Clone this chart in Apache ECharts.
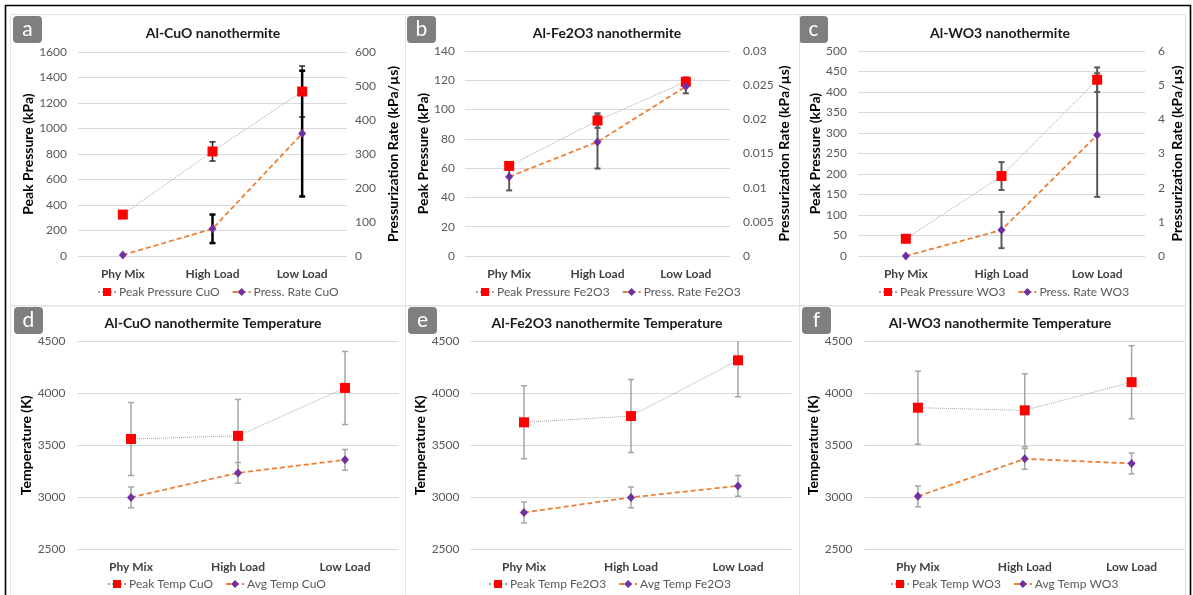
<!DOCTYPE html>
<html>
<head>
<meta charset="utf-8">
<script src="https://cdn.jsdelivr.net/npm/echarts@6/dist/echarts.min.js"></script>
<style>
  html, body { margin: 0; padding: 0; background: #fff; }
  #chart { width: 1193px; height: 595px; }
</style>
</head>
<body>
<div id="chart"></div>
<script>
// ---- data ----
const categories = ['Phy Mix', 'High Load', 'Low Load'];

// pressure (kPa) and pressurization rate (kPa/µs)
const cuoPeakPressure = [325, 820, 1290];
const cuoPeakPressureErr = [0, 75, 200];
const cuoPressRate = [3, 80, 360];
const cuoPressRateErr = [0, 42, 185];

const fe2o3PeakPressure = [61.5, 92.5, 119];
const fe2o3PeakPressureErr = [2, 5, 3];
const fe2o3PressRate = [0.0116, 0.0167, 0.0248];
const fe2o3PressRateErr = [0.002, 0.0039, 0.001];

const wo3PeakPressure = [42, 195, 430];
const wo3PeakPressureErr = [0, 34, 30];
const wo3PressRate = [0, 0.76, 3.54];
const wo3PressRateErr = [0, 0.53, 1.81];

// temperatures (K)
const cuoPeakTemp = [3560, 3590, 4050];
const cuoPeakTempErr = [350, 350, 350];
const cuoAvgTemp = [3000, 3235, 3360];
const cuoAvgTempErr = [100, 100, 100];

const fe2o3PeakTemp = [3720, 3780, 4315];
const fe2o3PeakTempErr = [350, 350, 350];
const fe2o3AvgTemp = [2855, 3000, 3110];
const fe2o3AvgTempErr = [100, 100, 100];

const wo3PeakTemp = [3860, 3835, 4105];
const wo3PeakTempErr = [350, 350, 350];
const wo3AvgTemp = [3010, 3370, 3325];
const wo3AvgTempErr = [100, 100, 100];

// ---- styling ----
const FONT = 'Lato, "Open Sans", sans-serif';
const RED = '#ff0000', PURPLE = '#7030a0', ORANGE = '#ed7d31', DOT = '#a6a6a6';
const GRIDLINE = '#d9d9d9', TICK = '#595959';

const panels = [
  { key: 'a', title: 'Al-CuO nanothermite', grid: { left: 78, top: 52, width: 269, height: 204 },
    left: { min: 0, max: 1600, interval: 200, name: 'Peak Pressure (kPa)', gap: 29, margin: 11 },
    right: { min: 0, max: 600, interval: 100, name: 'Pressurization Rate (kPa/µs)', gap: 39, margin: 8 },
    s1: { name: 'Peak Pressure CuO', data: cuoPeakPressure, err: cuoPeakPressureErr },
    s2: { name: 'Press. Rate CuO', data: cuoPressRate, err: cuoPressRateErr },
    errColor1: '#262626', errWidth1: 1.5, errColor2: '#000', errWidth2: 2.5,
    legendLeft: 97, legendTop: 286, badge: [13, 16], titleX: 208, titleY: 21 },
  { key: 'b', title: 'Al-Fe2O3 nanothermite', grid: { left: 465, top: 51, width: 265, height: 205 },
    left: { min: 0, max: 140, interval: 20, name: 'Peak Pressure (kPa)', gap: 28, margin: 10 },
    right: { min: 0, max: 0.03, interval: 0.005, name: 'Pressurization Rate (kPa/µs)', gap: 46, margin: 13 },
    s1: { name: 'Peak Pressure Fe2O3', data: fe2o3PeakPressure, err: fe2o3PeakPressureErr },
    s2: { name: 'Press. Rate Fe2O3', data: fe2o3PressRate, err: fe2o3PressRateErr },
    errColor1: '#595959', errWidth1: 2, errColor2: '#595959', errWidth2: 2,
    legendLeft: 475, legendTop: 286, badge: [407, 16], titleX: 602, titleY: 21 },
  { key: 'c', title: 'Al-WO3 nanothermite', grid: { left: 858, top: 51, width: 287, height: 205 },
    left: { min: 0, max: 500, interval: 50, name: 'Peak Pressure (kPa)', gap: 30, margin: 11 },
    right: { min: 0, max: 6, interval: 1, name: 'Pressurization Rate (kPa/µs)', gap: 25, margin: 13 },
    s1: { name: 'Peak Pressure WO3', data: wo3PeakPressure, err: wo3PeakPressureErr },
    s2: { name: 'Press. Rate WO3', data: wo3PressRate, err: wo3PressRateErr },
    errColor1: '#595959', errWidth1: 2, errColor2: '#595959', errWidth2: 2,
    legendLeft: 878, legendTop: 286, badge: [799, 16], titleX: 995, titleY: 21 },
  { key: 'd', title: 'Al-CuO nanothermite Temperature', grid: { left: 77.5, top: 341, width: 321, height: 208.5 },
    left: { min: 2500, max: 4500, interval: 500, name: 'Temperature (K)', gap: 28, margin: 12 },
    s1: { name: 'Peak Temp CuO', data: cuoPeakTemp, err: cuoPeakTempErr },
    s2: { name: 'Avg Temp CuO', data: cuoAvgTemp, err: cuoAvgTempErr },
    errColor1: '#a6a6a6', errWidth1: 1.5, errColor2: '#a6a6a6', errWidth2: 1.5,
    legendLeft: 107, legendTop: 578, badge: [14, 307], titleX: 208, titleY: 311 },
  { key: 'e', title: 'Al-Fe2O3 nanothermite Temperature', grid: { left: 470.5, top: 341, width: 321, height: 208.5 },
    left: { min: 2500, max: 4500, interval: 500, name: 'Temperature (K)', gap: 29, margin: 11 },
    s1: { name: 'Peak Temp Fe2O3', data: fe2o3PeakTemp, err: fe2o3PeakTempErr },
    s2: { name: 'Avg Temp Fe2O3', data: fe2o3AvgTemp, err: fe2o3AvgTempErr },
    errColor1: '#a6a6a6', errWidth1: 1.5, errColor2: '#a6a6a6', errWidth2: 1.5,
    legendLeft: 488, legendTop: 578, badge: [408, 307], titleX: 602, titleY: 311 },
  { key: 'f', title: 'Al-WO3 nanothermite Temperature', grid: { left: 864.5, top: 341, width: 320.5, height: 208.5 },
    left: { min: 2500, max: 4500, interval: 500, name: 'Temperature (K)', gap: 29, margin: 12 },
    s1: { name: 'Peak Temp WO3', data: wo3PeakTemp, err: wo3PeakTempErr },
    s2: { name: 'Avg Temp WO3', data: wo3AvgTemp, err: wo3AvgTempErr },
    errColor1: '#a6a6a6', errWidth1: 1.5, errColor2: '#a6a6a6', errWidth2: 1.5,
    legendLeft: 890, legendTop: 578, badge: [802, 307], titleX: 995, titleY: 311 }
];

// vertical error bar with small caps, drawn through the axis scales
function errorBar(color, width, cap) {
  return function (params, api) {
    const x = api.value(0), lo = api.value(1), hi = api.value(2);
    const a = api.coord([x, lo]), b = api.coord([x, hi]);
    const st = { stroke: color, lineWidth: width };
    return {
      type: 'group',
      children: [
        { type: 'line', shape: { x1: a[0], y1: a[1], x2: b[0], y2: b[1] }, style: st },
        { type: 'line', shape: { x1: a[0] - cap, y1: a[1], x2: a[0] + cap, y2: a[1] }, style: st },
        { type: 'line', shape: { x1: b[0] - cap, y1: b[1], x2: b[0] + cap, y2: b[1] }, style: st }
      ]
    };
  };
}
function errData(vals, errs) {
  const out = [];
  vals.forEach((v, i) => { if (errs[i] > 0) out.push([i, v - errs[i], v + errs[i]]); });
  return out;
}
// plain numbers, no thousands separator
function fmt(v) { return String(+v.toFixed(4)); }

const grid = [], xAxis = [], yAxis = [], series = [], legend = [], title = [];
const graphic = [];

// frame and panel borders
graphic.push({ type: 'rect', shape: { x: 5.5, y: 5.5, width: 1185, height: 600 },
  style: { fill: 'none', stroke: '#000', lineWidth: 1.6 }, z: 100 });
[[10, 14, 395, 291], [405, 14, 394, 291], [799, 14, 386, 291],
 [10, 305.5, 395, 300], [405, 305.5, 394, 300], [799, 305.5, 386, 300]].forEach(r => {
  graphic.push({ type: 'rect', shape: { x: r[0] + 0.5, y: r[1] + 0.5, width: r[2], height: r[3] },
    style: { fill: 'none', stroke: '#e3e3e3', lineWidth: 1 }, z: 99 });
});

const NAME_STYLE = { fontFamily: FONT, fontSize: 14, fontWeight: 'bold', color: '#000' };

panels.forEach((p, gi) => {
  grid.push(Object.assign({ containLabel: false }, p.grid));
  xAxis.push({
    type: 'category', gridIndex: gi, data: categories,
    axisLine: { show: false }, axisTick: { show: false },
    axisLabel: { fontFamily: FONT, fontSize: 12, fontWeight: 'bold', color: '#404040', margin: 12 }
  });
  const leftIdx = yAxis.length;
  yAxis.push({
    type: 'value', gridIndex: gi, min: p.left.min, max: p.left.max, interval: p.left.interval,
    name: p.left.name, nameLocation: 'middle', nameGap: p.left.gap, nameTextStyle: NAME_STYLE,
    axisLine: { show: false }, axisTick: { show: false },
    axisLabel: { fontFamily: FONT, fontSize: 12, color: TICK, margin: p.left.margin, formatter: fmt },
    splitLine: { lineStyle: { color: GRIDLINE, width: 1 } }
  });
  let rightIdx = leftIdx;
  if (p.right) {
    rightIdx = yAxis.length;
    yAxis.push({
      type: 'value', gridIndex: gi, position: 'right', min: p.right.min, max: p.right.max, interval: p.right.interval,
      name: p.right.name, nameLocation: 'middle', nameGap: p.right.gap, nameTextStyle: NAME_STYLE,
      axisLine: { show: false }, axisTick: { show: false },
      axisLabel: { fontFamily: FONT, fontSize: 12, color: TICK, margin: p.right.margin, formatter: fmt },
      splitLine: { show: false }
    });
  }
  // error bars
  series.push({
    type: 'custom', xAxisIndex: gi, yAxisIndex: leftIdx, clip: true, z: 1, silent: true,
    renderItem: errorBar(p.errColor1, p.errWidth1, 3),
    encode: { x: 0, y: [1, 2] }, data: errData(p.s1.data, p.s1.err)
  });
  series.push({
    type: 'custom', xAxisIndex: gi, yAxisIndex: rightIdx, clip: true, z: 1, silent: true,
    renderItem: errorBar(p.errColor2, p.errWidth2, 3),
    encode: { x: 0, y: [1, 2] }, data: errData(p.s2.data, p.s2.err)
  });
  // peak series: dotted grey line with red squares
  series.push({
    type: 'line', name: p.s1.name, xAxisIndex: gi, yAxisIndex: leftIdx, data: p.s1.data, z: 3,
    symbol: 'rect', symbolSize: 10, showAllSymbol: true,
    lineStyle: { color: DOT, width: 1, type: 'dotted' },
    itemStyle: { color: RED }
  });
  // rate / average series: orange dashed line with purple diamonds
  series.push({
    type: 'line', name: p.s2.name, xAxisIndex: gi, yAxisIndex: rightIdx, data: p.s2.data, z: 4,
    symbol: 'diamond', symbolSize: [8, 9], showAllSymbol: true,
    lineStyle: { color: ORANGE, width: 1.75, type: [5, 3] },
    itemStyle: { color: PURPLE }
  });
  legend.push({
    data: [p.s1.name, p.s2.name], left: p.legendLeft, top: p.legendTop, padding: 0,
    itemWidth: 18, itemHeight: 10, itemGap: 12, selectedMode: false,
    textStyle: { fontFamily: FONT, fontSize: 12, color: TICK, padding: [0, 0, 0, -2] }
  });
  title.push({
    text: p.title, left: p.titleX, top: p.titleY, textAlign: 'center',
    textStyle: { fontFamily: FONT, fontSize: 14, fontWeight: 'bold', color: '#1a1a1a' }
  });
  // panel letter badge
  graphic.push({
    type: 'group', left: p.badge[0], top: p.badge[1], z: 98,
    children: [
      { type: 'rect', shape: { x: 0, y: 0, width: 29, height: 27, r: 4 }, style: { fill: '#7f7f7f' } },
      { type: 'text', x: 14.5, y: 13.5, style: { text: p.key, fill: '#fff', fontFamily: FONT, fontSize: 21,
        align: 'center', verticalAlign: 'middle' } }
    ]
  });
});

const chart = echarts.init(document.getElementById('chart'), null, { renderer: 'canvas' });
chart.setOption({
  animation: false,
  backgroundColor: '#fff',
  title, grid, xAxis, yAxis, series, legend, graphic
});
</script>
</body>
</html>
